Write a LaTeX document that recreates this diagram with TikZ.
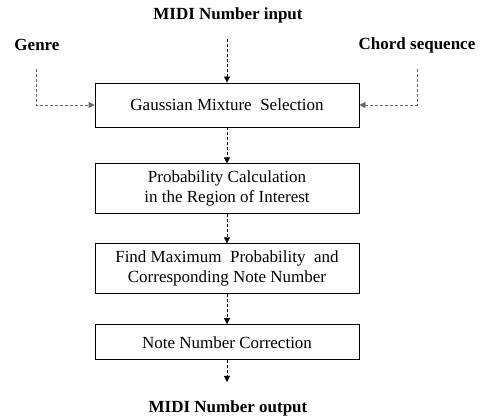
\documentclass[tikz,border=0pt]{standalone}
\usepackage{fontspec}
\setmainfont{Liberation Serif}
\usetikzlibrary{positioning,arrows.meta}

\begin{document}
\begin{tikzpicture}[x=1pt,y=-1pt,>={Triangle[length=6pt,width=6pt]},
   every node/.style={font=\fontsize{17}{20}\selectfont},
   block/.style={draw,line width=0.9pt,minimum width=264pt,align=center,inner sep=0pt},
   label/.style={font=\fontsize{17}{20}\selectfont\bfseries},
   flow/.style={->,dash pattern=on 3pt off 2pt,line width=0.9pt},
   side/.style={flow,black!60}]
  \useasboundingbox (0,0) rectangle (491,419);
  % processing chain
  \node[block,minimum height=44pt] (gms) at (227,105) {Gaussian Mixture\ \ Selection};
  \node[block,minimum height=50pt] (prob) [below=36pt of gms] {Probability Calculation\\ in the Region of Interest};
  \node[block,minimum height=50pt] (maxp) [below=29pt of prob] {Find Maximum\ \ Probability\ \ and\\ Corresponding Note Number};
  \node[block,minimum height=35pt] (corr) [below=30pt of maxp] {Note Number Correction};
  % inputs and output
  \node[label] (midiin) at (228,15) {MIDI Number input};
  \node[label] (genre) at (37,45) {Genre};
  \node[label] (chords) at (417,45) {Chord sequence};
  \node[label] (midiout) at (228,408) {MIDI Number output};
  \coordinate (in-start) at (227,39);
  \coordinate (genre-start) at (36,69);
  \coordinate (chords-start) at (417,69);
  \coordinate (out-end) at (227,382);
  \draw[flow] (in-start) -- (gms.north);
  \draw[side] (genre-start) |- (gms.west);
  \draw[side] (chords-start) |- (gms.east);
  \draw[flow] (gms) -- (prob);
  \draw[flow] (prob) -- (maxp);
  \draw[flow] (maxp) -- (corr);
  \draw[flow] (corr) -- (out-end);
\end{tikzpicture}
\end{document}
